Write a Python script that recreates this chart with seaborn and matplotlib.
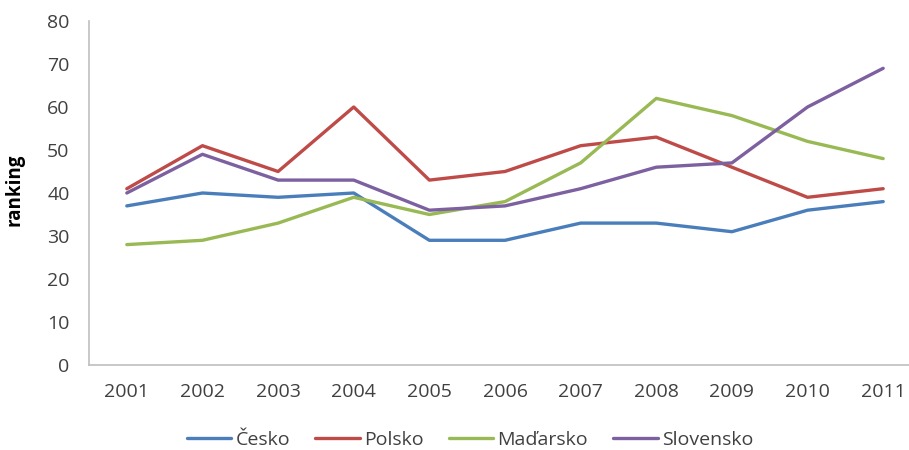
import matplotlib
matplotlib.use("Agg")
import matplotlib.pyplot as plt
import seaborn as sns
import pandas as pd

years = [2001, 2002, 2003, 2004, 2005, 2006, 2007, 2008, 2009, 2010, 2011]
countries = ["Česko", "Polsko", "Maďarsko", "Slovensko"]
cesko = [37, 40, 39, 40, 29, 29, 33, 33, 31, 36, 38]
polsko = [41, 51, 45, 60, 43, 45, 51, 53, 46, 39, 41]
madarsko = [28, 29, 33, 39, 35, 38, 47, 62, 58, 52, 48]
slovensko = [40, 49, 43, 43, 36, 37, 41, 46, 47, 60, 69]
colors = ["#4A7EBB", "#BE4B48", "#98B954", "#7D60A0"]

series = [cesko, polsko, madarsko, slovensko]
df = pd.DataFrame(
    [(y, c, v) for c, vals in zip(countries, series) for y, v in zip(years, vals)],
    columns=["rok", "země", "ranking"],
)

sns.set_style("white")
plt.rcParams["font.family"] = ["Open Sans", "DejaVu Sans"]

fig = plt.figure(figsize=(9.09, 4.5), dpi=100)
ax = fig.add_axes([89 / 909, 1 - 365 / 450, 832 / 909, (365 - 21) / 450])

sns.lineplot(
    data=df, x="rok", y="ranking", hue="země", hue_order=countries,
    palette=colors, linewidth=2.4, ax=ax, legend=True,
)

ax.set_xlim(2000.5, 2011.5)
ax.set_ylim(0, 80)
ax.set_xticks(years)
ax.set_xticklabels([str(y) for y in years])
ax.set_yticks(range(0, 81, 10))
ax.tick_params(axis="both", length=0, labelsize=14, colors="#404040")
ax.tick_params(axis="y", pad=14)
ax.tick_params(axis="x", pad=13)
ax.set_xlabel("")
ax.set_ylabel("ranking", fontsize=13.5, fontweight="bold", color="black")
ax.yaxis.set_label_coords(-0.078, 0.51)

for side in ["top", "right"]:
    ax.spines[side].set_visible(False)
for side in ["left", "bottom"]:
    ax.spines[side].set_color("#BFBFBF")
    ax.spines[side].set_linewidth(1.2)

handles, labels = ax.get_legend_handles_labels()
ax.legend(
    handles, labels, loc="center", bbox_to_anchor=(470 / 909, 1 - 440 / 450),
    bbox_transform=fig.transFigure, ncol=4, frameon=False, fontsize=14,
    handlelength=2.3, handletextpad=0.2, columnspacing=1.3, labelcolor="#404040",
)

fig.savefig("out.png", dpi=100)
